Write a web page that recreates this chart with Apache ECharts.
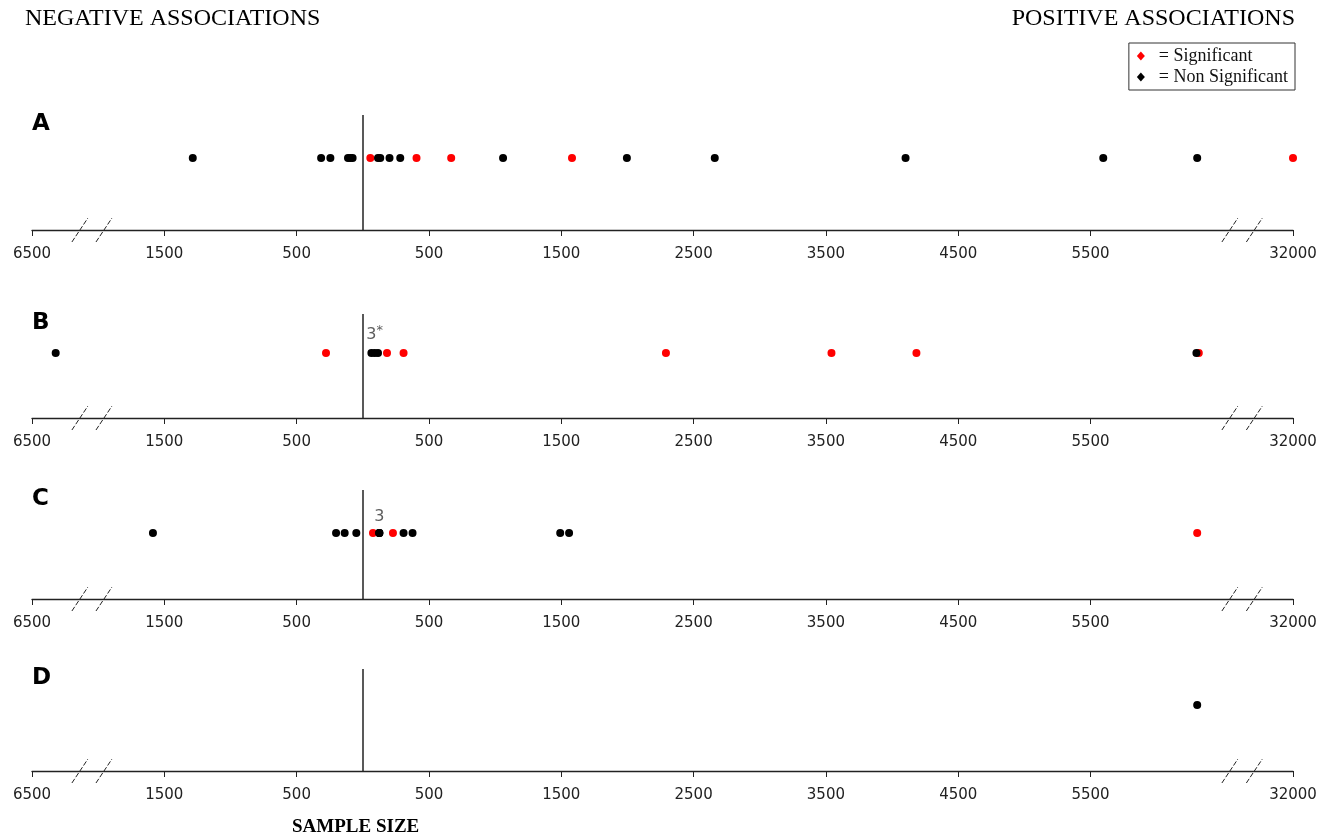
<!DOCTYPE html>
<html>
<head>
<meta charset="utf-8">
<title>Sample size associations</title>
<script src="https://cdn.jsdelivr.net/npm/echarts@6/dist/echarts.min.js"></script>
<style>
html, body { margin: 0; padding: 0; background: #fff; }
#chart { width: 1324px; height: 839px; }
</style>
</head>
<body>
<div id="chart"></div>
<script>
// positions on the broken axis, negative = negative associations
var tickValues = [-2500, -1500, -500, 500, 1500, 2500, 3500, 4500, 5500, 7030];
var tickLabels = ['6500', '1500', '500', '500', '1500', '2500', '3500', '4500', '5500', '32000'];
var breakMarks = [-2138, -1956, 6553, 6738];

var panelNames = ['A', 'B', 'C', 'D'];
var sigA = [57, 406, 668, 1581, 7030];
var nonA = [-1285, -315, -245, -112, -94, -77, 115, 132, 202, 283, 1060, 1996, 2660, 4102, 5596, 6306];
var sigB = [-278, 183, 308, 2291, 3542, 4184, 6318];
var nonB = [-2321, 65, 90, 115, 6300];
var sigC = [77, 228, 6306];
var nonC = [-1586, -202, -137, -49, 125, 125, 125, 308, 376, 1492, 1559];
var sigD = [];
var nonD = [6306];
// labels over stacked points: panel, position, text
var notes = [[1, 90, '3*'], [2, 125, '3']];

var sigData = [sigA, sigB, sigC, sigD];
var nonData = [nonA, nonB, nonC, nonD];

// grid placement of each panel, row = height of the dots inside the panel (0..1)
var panels = [
  { top: 115, height: 115, row: 0.626 },
  { top: 314, height: 104, row: 0.625 },
  { top: 490, height: 109, row: 0.606 },
  { top: 669, height: 102, row: 0.647 }
];

var chart = echarts.init(document.getElementById('chart'));

var headStyle = { fontFamily: 'Liberation Serif', fontSize: 24, fontWeight: 'normal', color: '#000' };
var grids = [], xAxes = [], yAxes = [], series = [];
var titles = [
  { text: 'NEGATIVE ASSOCIATIONS', left: 25, top: 7, padding: 0, textStyle: headStyle },
  { text: 'POSITIVE ASSOCIATIONS', right: 29, top: 7, padding: 0, textStyle: headStyle },
  { text: 'SAMPLE SIZE', left: 292, top: 818, padding: 0,
    textStyle: { fontFamily: 'Liberation Serif', fontSize: 19, fontWeight: 'bold', color: '#000' } }
];

panels.forEach(function (p, i) {
  grids.push({ left: 32, right: 31, top: p.top, height: p.height });
  xAxes.push({
    type: 'value', gridIndex: i, min: -2500, max: 7030,
    axisLine: { show: true, onZero: false, lineStyle: { color: '#222', width: 1.3 } },
    axisTick: { show: true, customValues: tickValues, length: 6, lineStyle: { color: '#222' } },
    axisLabel: {
      customValues: tickValues, margin: 17,
      fontFamily: 'DejaVu Sans', fontSize: 15, color: '#222',
      formatter: function (v) {
        var k = tickValues.indexOf(v);
        return k < 0 ? '' : tickLabels[k];
      }
    },
    splitLine: { show: false }
  });
  yAxes.push({ type: 'value', gridIndex: i, min: 0, max: 1, show: false });

  titles.push({
    text: panelNames[i], left: 32, top: p.top - 2, padding: 0,
    textStyle: { fontFamily: 'DejaVu Sans', fontSize: 23, fontWeight: 'bold', color: '#000' }
  });

  series.push({
    type: 'custom', xAxisIndex: i, yAxisIndex: i, silent: true, clip: false,
    data: breakMarks.map(function (v) { return [v, 0]; }),
    renderItem: function (params, api) {
      var c = api.coord([api.value(0), 0]);
      return {
        type: 'line',
        shape: { x1: c[0] - 8, y1: c[1] + 12, x2: c[0] + 8, y2: c[1] - 12 },
        style: { stroke: '#222', lineWidth: 1, lineDash: [5, 2] }
      };
    }
  });
  series.push({
    name: 'Significant', type: 'scatter', xAxisIndex: i, yAxisIndex: i,
    symbolSize: 8, clip: false, itemStyle: { color: '#ff0000', opacity: 1 },
    emphasis: { disabled: true },
    data: sigData[i].map(function (v) { return [v, p.row]; })
  });
  series.push({
    name: 'Non Significant', type: 'scatter', xAxisIndex: i, yAxisIndex: i,
    symbolSize: 8, clip: false, itemStyle: { color: '#000', opacity: 1 },
    emphasis: { disabled: true },
    data: nonData[i].map(function (v) { return [v, p.row]; }),
    markLine: {
      silent: true, symbol: 'none', label: { show: false },
      lineStyle: { color: '#222', width: 1.5, type: 'solid' },
      data: [{ xAxis: 0 }]
    }
  });
});

notes.forEach(function (n) {
  var p = panels[n[0]];
  series.push({
    type: 'scatter', xAxisIndex: n[0], yAxisIndex: n[0], symbolSize: 0, silent: true,
    data: [[n[1], p.row]],
    label: {
      show: true, position: 'top', distance: 8,
      formatter: n[2].replace('*', '{s|*}'),
      fontFamily: 'DejaVu Sans', fontSize: 16, color: '#333',
      rich: { s: { fontFamily: 'DejaVu Sans', fontSize: 13, color: '#333', verticalAlign: 'top', padding: [0, 0, 8, 0] } }
    }
  });
});

chart.setOption({
  animation: false,
  backgroundColor: '#fff',
  title: titles,
  legend: {
    orient: 'vertical', right: 29, top: 43,
    data: [{ name: 'Significant', icon: 'diamond' }, { name: 'Non Significant', icon: 'diamond' }],
    itemWidth: 8, itemHeight: 9, itemGap: 3,
    formatter: function (name) { return '  = ' + name; },
    textStyle: { fontFamily: 'Liberation Serif', fontSize: 18, color: '#111' },
    borderColor: '#333', borderWidth: 1, padding: [4, 7, 4, 8],
    selectedMode: false
  },
  grid: grids,
  xAxis: xAxes,
  yAxis: yAxes,
  series: series
});
</script>
</body>
</html>
